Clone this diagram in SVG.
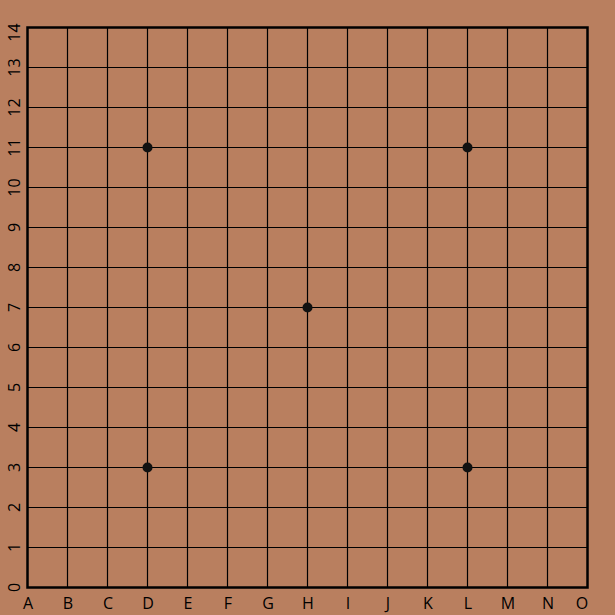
<svg xmlns="http://www.w3.org/2000/svg" width="615" height="615" viewBox="0 0 615 615">
<style>
.grid line{stroke:#000;stroke-width:1.2}
.lbl{font-family:"Open Sans","DejaVu Sans",sans-serif;font-size:16px;fill:#000;text-anchor:middle}
.star{fill:#111}
</style>
<rect width="615" height="615" fill="#B97F5F"/>
<g id="grid" class="grid">
<line x1="67.5" y1="27.5" x2="67.5" y2="587.5"/>
<line x1="107.5" y1="27.5" x2="107.5" y2="587.5"/>
<line x1="147.5" y1="27.5" x2="147.5" y2="587.5"/>
<line x1="187.5" y1="27.5" x2="187.5" y2="587.5"/>
<line x1="227.5" y1="27.5" x2="227.5" y2="587.5"/>
<line x1="267.5" y1="27.5" x2="267.5" y2="587.5"/>
<line x1="307.5" y1="27.5" x2="307.5" y2="587.5"/>
<line x1="347.5" y1="27.5" x2="347.5" y2="587.5"/>
<line x1="387.5" y1="27.5" x2="387.5" y2="587.5"/>
<line x1="427.5" y1="27.5" x2="427.5" y2="587.5"/>
<line x1="467.5" y1="27.5" x2="467.5" y2="587.5"/>
<line x1="507.5" y1="27.5" x2="507.5" y2="587.5"/>
<line x1="547.5" y1="27.5" x2="547.5" y2="587.5"/>
<line x1="27.5" y1="67.5" x2="587.5" y2="67.5"/>
<line x1="27.5" y1="107.5" x2="587.5" y2="107.5"/>
<line x1="27.5" y1="147.5" x2="587.5" y2="147.5"/>
<line x1="27.5" y1="187.5" x2="587.5" y2="187.5"/>
<line x1="27.5" y1="227.5" x2="587.5" y2="227.5"/>
<line x1="27.5" y1="267.5" x2="587.5" y2="267.5"/>
<line x1="27.5" y1="307.5" x2="587.5" y2="307.5"/>
<line x1="27.5" y1="347.5" x2="587.5" y2="347.5"/>
<line x1="27.5" y1="387.5" x2="587.5" y2="387.5"/>
<line x1="27.5" y1="427.5" x2="587.5" y2="427.5"/>
<line x1="27.5" y1="467.5" x2="587.5" y2="467.5"/>
<line x1="27.5" y1="507.5" x2="587.5" y2="507.5"/>
<line x1="27.5" y1="547.5" x2="587.5" y2="547.5"/>
<rect x="27.5" y="27.5" width="560" height="560" fill="none" stroke="#000" stroke-width="2.5"/>
</g>
<g id="stars">
<circle class="star" cx="147.5" cy="147.5" r="5"/>
<circle class="star" cx="467.5" cy="147.5" r="5"/>
<circle class="star" cx="307.5" cy="307.5" r="5"/>
<circle class="star" cx="147.5" cy="467.5" r="5"/>
<circle class="star" cx="467.5" cy="467.5" r="5"/>
</g>
<g id="col-labels" class="lbl">
<text x="28" y="609">A</text>
<text x="68" y="609">B</text>
<text x="108" y="609">C</text>
<text x="148" y="609">D</text>
<text x="188" y="609">E</text>
<text x="228" y="609">F</text>
<text x="268" y="609">G</text>
<text x="308" y="609">H</text>
<text x="348" y="609">I</text>
<text x="388" y="609">J</text>
<text x="428" y="609">K</text>
<text x="468" y="609">L</text>
<text x="508" y="609">M</text>
<text x="548" y="609">N</text>
<text x="582" y="609">O</text>
</g>
<g id="row-labels" class="lbl">
<text transform="translate(20,587.5) rotate(-90)">0</text>
<text transform="translate(20,547.5) rotate(-90)">1</text>
<text transform="translate(20,507.5) rotate(-90)">2</text>
<text transform="translate(20,467.5) rotate(-90)">3</text>
<text transform="translate(20,427.5) rotate(-90)">4</text>
<text transform="translate(20,387.5) rotate(-90)">5</text>
<text transform="translate(20,347.5) rotate(-90)">6</text>
<text transform="translate(20,307.5) rotate(-90)">7</text>
<text transform="translate(20,267.5) rotate(-90)">8</text>
<text transform="translate(20,227.5) rotate(-90)">9</text>
<text transform="translate(20,187.5) rotate(-90)">10</text>
<text transform="translate(20,147.5) rotate(-90)">11</text>
<text transform="translate(20,107.5) rotate(-90)">12</text>
<text transform="translate(20,67.5) rotate(-90)">13</text>
<text transform="translate(20,32.5) rotate(-90)">14</text>
</g>
</svg>
